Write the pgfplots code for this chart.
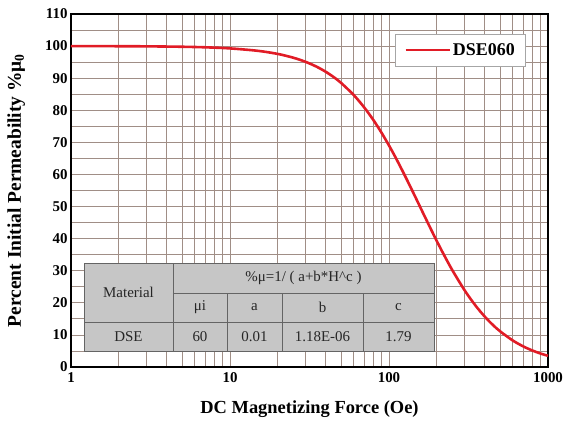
\documentclass[border=0pt]{standalone}
\usepackage{fontspec}
\setmainfont{Liberation Serif}
\usepackage{pgfplots}
\pgfplotsset{compat=1.18}
\usetikzlibrary{calc}
\definecolor{curvered}{RGB}{225,28,38}
\definecolor{gridc}{RGB}{160,142,134}
\definecolor{tabfill}{RGB}{198,198,198}
\definecolor{tabline}{RGB}{100,100,100}
\begin{document}
\begin{tikzpicture}
\begin{axis}[
  name=ax,
  xmode=log,
  scale only axis,
  width=477bp, height=353bp,
  xmin=1, xmax=1000, ymin=0, ymax=110,
  xtick={1,10,100,1000},
  xticklabels={1,10,100,1000},
  ytick={0,10,...,110},
  minor y tick num=1,
  grid=both,
  major grid style={color=gridc, line width=0.8bp},
  minor grid style={color=gridc, line width=0.8bp},
  tick style={draw=none},
  axis line style={black, line width=1.6bp},
  /pgf/number format/assume math mode=true,
  ticklabel style={font=\bfseries\fontsize{15}{15}\selectfont},
  xticklabel style={yshift=-2bp},
  xlabel={DC Magnetizing Force (Oe)},
  ylabel={Percent Initial Permeability \%μ\textsubscript{0}},
  xlabel style={font=\bfseries\fontsize{18.5}{18.5}\selectfont, at={(axis description cs:0.5,-0.119)}, anchor=center},
  ylabel style={font=\bfseries\fontsize{19.5}{19.5}\selectfont, at={(axis description cs:-0.115,0.5)}, anchor=center},
  legend style={at={(rel axis cs:0.954,0.943)}, anchor=north east,
    font=\bfseries\fontsize{18}{18}\selectfont, draw=gray!70, line width=0.6bp,
    inner xsep=9bp, inner ysep=7bp, cells={anchor=west}},
  legend image code/.code={\draw[#1] (0bp,0bp) -- (44bp,0bp);},
  clip=false,
]
\addplot[curvered, line width=2.6bp, smooth] coordinates {
(1,99.99) (1.5,99.98) (2,99.96) (3,99.92) (5,99.79) (7,99.62) (10,99.28)
(15,98.52) (20,97.55) (25,96.38) (30,95.06) (35,93.59) (40,92.00) (45,90.30)
(50,88.51) (60,84.75) (70,80.83) (80,76.86) (90,72.90) (100,69.03)
(110,65.29) (120,61.67) (130,58.23) (140,54.98) (150,51.91) (160,49.02)
(180,43.79) (200,39.21) (220,35.24) (250,30.20) (300,23.78) (350,19.14)
(400,15.71) (450,13.11) (500,11.11) (600,8.27) (700,6.40) (800,5.11)
(900,4.18) (1000,3.49)
};
\addlegendentry{DSE060}
% parameter table
\fill[tabfill] (rel axis cs:0.0273,0.0453) rectangle (rel axis cs:0.7610,0.2946);
\draw[tabline, line width=0.9bp] (rel axis cs:0.0273,0.0453) rectangle (rel axis cs:0.7610,0.2946);
\draw[tabline, line width=0.9bp] (rel axis cs:0.2138,0.0453) -- (rel axis cs:0.2138,0.2946);
\draw[tabline, line width=0.9bp] (rel axis cs:0.2138,0.2096) -- (rel axis cs:0.7610,0.2096);
\draw[tabline, line width=0.9bp] (rel axis cs:0.0273,0.1275) -- (rel axis cs:0.7610,0.1275);
\draw[tabline, line width=0.9bp] (rel axis cs:0.3270,0.0453) -- (rel axis cs:0.3270,0.2096);
\draw[tabline, line width=0.9bp] (rel axis cs:0.4423,0.0453) -- (rel axis cs:0.4423,0.2096);
\draw[tabline, line width=0.9bp] (rel axis cs:0.6122,0.0453) -- (rel axis cs:0.6122,0.2096);
\begin{scope}[every node/.style={font=\fontsize{15}{15}\selectfont, text=black!85}]
\node at (rel axis cs:0.12055,0.2111) {Material};
\node at (rel axis cs:0.48735,0.2521) {\%μ=1/ ( a+b*H\textasciicircum c )};
\node at (rel axis cs:0.2704,0.1686) {μi};
\node at (rel axis cs:0.38465,0.1686) {a};
\node at (rel axis cs:0.52725,0.1686) {b};
\node at (rel axis cs:0.6866,0.1686) {c};
\node at (rel axis cs:0.12055,0.0864) {DSE};
\node at (rel axis cs:0.2704,0.0864) {60};
\node at (rel axis cs:0.38465,0.0864) {0.01};
\node at (rel axis cs:0.52725,0.0864) {1.18E-06};
\node at (rel axis cs:0.6866,0.0864) {1.79};
\end{scope}
\end{axis}
\pgfresetboundingbox
\path ($(ax.south west)+(-71bp,-57bp)$) rectangle ($(ax.north east)+(16bp,14bp)$);
\end{tikzpicture}
\end{document}
